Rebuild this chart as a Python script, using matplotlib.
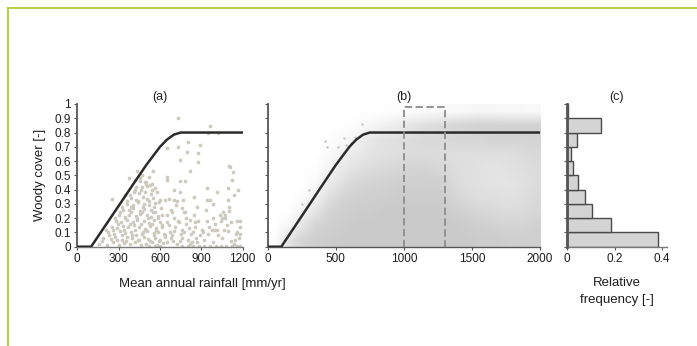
import matplotlib
matplotlib.use("Agg")
import matplotlib.pyplot as plt
import numpy as np
from matplotlib.colors import LinearSegmentedColormap
from matplotlib.lines import Line2D

plt.rcParams['font.family'] = ['Liberation Sans', 'DejaVu Sans']
plt.rcParams['font.size'] = 8

# --- data ---

# upper-bound curve (same in (a) and (b))
curve_x = [0, 100, 200, 300, 400, 500, 600, 650, 700, 750, 2000]
curve_y = [0, 0, 0.143, 0.286, 0.43, 0.572, 0.70, 0.75, 0.785, 0.80, 0.80]

# (a) individual sites: rainfall [mm/yr], woody cover [-]
rain_a = [
    160, 215, 262, 305, 338, 384, 418, 463, 497, 544, 578, 622,
    188, 243, 276, 322, 364, 397, 446, 482, 516, 563, 601, 638,
    224, 268, 313, 347, 392, 428, 474, 508, 553, 587, 628,
    252, 287, 334, 368, 413, 447, 493, 527, 572, 612,
    283, 318, 362, 404, 436, 484, 518, 557, 603, 652,
    302, 343, 377, 424, 458, 503, 536, 584, 618,
    332, 373, 406, 452, 487, 534, 566, 607,
    358, 404, 437, 483, 517, 563,
    254, 392, 428, 474, 507, 548, 598,
    412, 448, 494, 533, 577,
    428, 473, 506, 563,
    452, 497, 542, 471, 523, 431, 552,
    650, 690, 722, 758, 802, 838, 872, 662, 703, 738, 783, 818, 857, 888,
    683, 718, 648, 763, 812, 846, 879, 702, 742, 672, 792, 832, 903,
    922, 948, 983, 1012, 1048, 1083, 1118, 1152, 1178, 942, 988, 1033, 1068, 1112,
    762, 803, 842, 884, 918, 962, 1003, 1042, 1081, 1122, 1158, 1180, 523, 561, 602,
    733, 963, 950, 1020, 806, 890, 733, 649, 794, 878, 745, 878, 818, 1108,
    1120, 649, 652, 745, 782, 939, 1093, 1168, 745, 637, 668, 702, 770,
    940, 962, 985, 866, 1093, 1100, 760, 772, 1060, 1052, 1075, 1160, 1180,
    1040, 1000, 980, 1093, 1160, 1180, 1103, 1127, 1140, 1010, 705, 850,
    # second pass over the dense part of the cloud
    178, 232, 289, 326, 353, 395, 441, 471, 529, 556, 593, 633,
    205, 257, 296, 341, 379, 421, 459, 501, 539, 571, 615,
    273, 309, 349, 386, 434, 466, 512, 546, 589,
    321, 357, 393, 441, 478, 522, 559, 596,
    346, 381, 419, 461, 498, 541,
    372, 416, 456, 489, 528,
    677, 711, 749, 788, 826, 864, 695, 731, 776, 815, 853, 687, 725,
    913, 957, 1024, 1061, 1134, 1171, 933, 1002, 1097, 1146,
]
cover_a = [
    0.02, 0.015, 0.03, 0.01, 0.025, 0.02, 0.035, 0.015, 0.02, 0.03, 0.01, 0.025,
    0.06, 0.055, 0.07, 0.05, 0.065, 0.06, 0.045, 0.07, 0.055, 0.06, 0.05, 0.065,
    0.1, 0.09, 0.11, 0.095, 0.105, 0.085, 0.1, 0.11, 0.095, 0.1, 0.09,
    0.14, 0.13, 0.145, 0.135, 0.15, 0.14, 0.125, 0.145, 0.13, 0.14,
    0.18, 0.17, 0.185, 0.175, 0.19, 0.18, 0.165, 0.185, 0.175, 0.17,
    0.22, 0.21, 0.225, 0.215, 0.23, 0.22, 0.205, 0.215, 0.225,
    0.26, 0.255, 0.27, 0.25, 0.265, 0.26, 0.245, 0.27,
    0.30, 0.295, 0.31, 0.30, 0.29, 0.305,
    0.337, 0.34, 0.33, 0.345, 0.335, 0.34, 0.33,
    0.38, 0.375, 0.385, 0.37, 0.38,
    0.42, 0.415, 0.425, 0.41,
    0.46, 0.455, 0.44, 0.50, 0.49, 0.53, 0.53,
    0.03, 0.08, 0.02, 0.12, 0.05, 0.10, 0.03, 0.15, 0.20, 0.17, 0.24, 0.19, 0.14, 0.08,
    0.26, 0.29, 0.22, 0.06, 0.13, 0.22, 0.18, 0.11, 0.04, 0.10, 0.16, 0.03, 0.12,
    0.05, 0.09, 0.03, 0.12, 0.06, 0.15, 0.04, 0.09, 0.14, 0.18, 0.20, 0.22, 0.20, 0.17,
    0.005, 0.005, 0.005, 0.005, 0.005, 0.005, 0.005, 0.005, 0.005, 0.005, 0.005, 0.005, 0.005, 0.005, 0.005,
    0.90, 0.847, 0.80, 0.80, 0.737, 0.714, 0.70, 0.69, 0.667, 0.655, 0.608, 0.597, 0.533, 0.561,
    0.468, 0.49, 0.47, 0.46, 0.46, 0.41, 0.41, 0.40, 0.386, 0.33, 0.335, 0.325, 0.33,
    0.33, 0.33, 0.30, 0.28, 0.33, 0.28, 0.27, 0.24, 0.24, 0.20, 0.22, 0.18, 0.18,
    0.18, 0.12, 0.12, 0.11, 0.10, 0.09, 0.566, 0.52, 0.36, 0.38, 0.40, 0.35,
    0.04, 0.08, 0.045, 0.085, 0.04, 0.08, 0.045, 0.09, 0.04, 0.085, 0.04, 0.08,
    0.12, 0.115, 0.16, 0.12, 0.16, 0.12, 0.16, 0.12, 0.16, 0.12, 0.155,
    0.2, 0.24, 0.2, 0.24, 0.2, 0.24, 0.2, 0.24, 0.2,
    0.28, 0.32, 0.28, 0.32, 0.28, 0.32, 0.28, 0.31,
    0.36, 0.36, 0.4, 0.4, 0.44, 0.40,
    0.48, 0.47, 0.48, 0.45, 0.43,
    0.06, 0.14, 0.09, 0.2, 0.09, 0.06, 0.04, 0.18, 0.1, 0.02, 0.17, 0.24, 0.32,
    0.1, 0.14, 0.08, 0.12, 0.02, 0.06, 0.26, 0.16, 0.25, 0.05,
]

# (b) density of the point cloud, rainfall bins of 100 mm (columns),
# cover bins of 0.1 (rows, bottom to top), 0 = empty, 1 = densest
rain_bins_b = list(range(0, 2001, 100))
cover_bins_b = [0, 0.1, 0.2, 0.3, 0.4, 0.5, 0.6, 0.7, 0.8, 0.9, 1.0]
density_b = [
    # 0    1    2    3    4    5    6    7    8    9    10   11   12   13   14   15   16   17   18   19
    [0.05, 0.5, 0.8, 0.9, 0.95, 1.0, 1.0, 1.0, 1.0, 1.0, 1.0, 1.0, 1.0, 1.0, 1.0, 0.95, 0.95, 0.9, 0.9, 0.9],
    [0.0, 0.15, 0.5, 0.8, 0.9, 0.95, 1.0, 1.0, 1.0, 1.0, 1.0, 1.0, 1.0, 1.0, 0.95, 0.9, 0.85, 0.8, 0.8, 0.85],
    [0.0, 0.0, 0.2, 0.5, 0.8, 0.9, 0.95, 0.95, 1.0, 1.0, 1.0, 1.0, 1.0, 0.9, 0.85, 0.75, 0.7, 0.65, 0.65, 0.75],
    [0.0, 0.0, 0.05, 0.25, 0.6, 0.8, 0.85, 0.9, 0.9, 0.95, 0.95, 0.95, 0.95, 0.8, 0.7, 0.6, 0.6, 0.55, 0.6, 0.7],
    [0.0, 0.0, 0.0, 0.1, 0.35, 0.6, 0.75, 0.8, 0.85, 0.9, 0.9, 0.9, 0.9, 0.7, 0.6, 0.55, 0.5, 0.5, 0.55, 0.65],
    [0.0, 0.0, 0.0, 0.03, 0.2, 0.4, 0.55, 0.65, 0.7, 0.75, 0.8, 0.8, 0.75, 0.65, 0.6, 0.55, 0.5, 0.55, 0.6, 0.65],
    [0.0, 0.0, 0.0, 0.0, 0.1, 0.25, 0.4, 0.5, 0.55, 0.6, 0.65, 0.65, 0.65, 0.6, 0.6, 0.6, 0.6, 0.6, 0.65, 0.7],
    [0.0, 0.0, 0.0, 0.0, 0.03, 0.1, 0.25, 0.45, 0.55, 0.6, 0.65, 0.7, 0.7, 0.75, 0.75, 0.75, 0.8, 0.8, 0.8, 0.8],
    [0.0, 0.0, 0.0, 0.0, 0.0, 0.02, 0.05, 0.15, 0.25, 0.35, 0.5, 0.6, 0.65, 0.75, 0.8, 0.85, 0.85, 0.85, 0.85, 0.85],
    [0.0, 0.0, 0.0, 0.0, 0.0, 0.0, 0.0, 0.0, 0.02, 0.03, 0.05, 0.08, 0.1, 0.1, 0.12, 0.15, 0.15, 0.12, 0.12, 0.1],
]
# a few stray points above the cloud in (b)
rain_b_pts = [423, 432, 560, 575, 610, 640, 250, 300, 520, 690]
cover_b_pts = [0.74, 0.70, 0.76, 0.71, 0.73, 0.77, 0.30, 0.40, 0.70, 0.86]

# dashed window in (b)
box_x = [1000, 1000, 1300, 1300]
box_y = [0, 0.98, 0.98, 0]

# (c) relative frequency of woody cover classes
freq_edges = [0, 0.1, 0.2, 0.3, 0.4, 0.5, 0.6, 0.7, 0.8, 0.9]
freq_vals = [0.385, 0.185, 0.105, 0.075, 0.045, 0.025, 0.015, 0.04, 0.145, 0.005]

y_ticks = [0, 0.1, 0.2, 0.3, 0.4, 0.5, 0.6, 0.7, 0.8, 0.9, 1.0]
y_labels = ['0', '0.1', '0.2', '0.3', '0.4', '0.5', '0.6', '0.7', '0.8', '0.9', '1']
xa_ticks = [0, 300, 600, 900, 1200]
xb_ticks = [0, 500, 1000, 1500, 2000]
xc_ticks = [0, 0.2, 0.4]
xc_labels = ['0', '0.2', '0.4']

# --- figure ---
W, H = 697, 346
fig = plt.figure(figsize=(W / 100, H / 100), dpi=100)
fig.patch.set_facecolor('white')


def px_axes(left, top, right, bottom):
    return fig.add_axes([left / W, 1 - bottom / H, (right - left) / W, (bottom - top) / H])


ax_a = px_axes(77.3, 104, 242.7, 246.7)
ax_b = px_axes(267.7, 104, 540, 246.7)
ax_c = px_axes(567, 104, 666.8, 246.7)

text_col = '#1e1e1e'
for ax in (ax_a, ax_b, ax_c):
    ax.set_facecolor('none')
    for s in ('top', 'right'):
        ax.spines[s].set_visible(False)
    ax.spines['left'].set_color('#555555')
    ax.spines['left'].set_linewidth(1.3)
    ax.spines['bottom'].set_color('#7a7a7a')
    ax.spines['bottom'].set_linewidth(1.0)
    ax.set_ylim(0, 1)
    ax.set_yticks(y_ticks)
    ax.tick_params(direction='out', length=2.5, width=0.8, color='#555555',
                   labelsize=8.5, labelcolor=text_col, pad=2)

# (a)
ax_a.scatter(rain_a, cover_a, s=7, color='#cdc9bf', linewidths=0, zorder=2)
ax_a.plot(curve_x, curve_y, color='#2b2b2b', lw=1.8, zorder=3, solid_capstyle='butt')
ax_a.set_xlim(0, 1200)
ax_a.set_xticks(xa_ticks)
ax_a.set_yticklabels(y_labels)
ax_a.set_ylabel('Woody cover [-]', fontsize=9.5, color=text_col, labelpad=6)
ax_a.set_title('(a)', fontsize=9, color=text_col, pad=3)

# (b)
cmap = LinearSegmentedColormap.from_list('cloud', ['#ffffff', '#cacaca'])
ax_b.imshow(np.array(density_b), extent=(rain_bins_b[0], rain_bins_b[-1], cover_bins_b[0], cover_bins_b[-1]),
            origin='lower', aspect='auto', cmap=cmap, vmin=0, vmax=1,
            interpolation='bilinear', zorder=1)
ax_b.scatter(rain_b_pts, cover_b_pts, s=3, color='#c6c6c6', linewidths=0, zorder=2)
ax_b.plot(curve_x, curve_y, color='#2b2b2b', lw=1.8, zorder=3, solid_capstyle='butt')
ax_b.plot(box_x, box_y, color='#8c8c8c', lw=1.3, ls=(0, (4, 2)), zorder=4)
ax_b.set_xlim(0, 2000)
ax_b.set_xticks(xb_ticks)
ax_b.set_yticklabels([])
ax_b.set_title('(b)', fontsize=9, color=text_col, pad=3)
ax_b.spines['bottom'].set_color('#555555')

# (c)
ax_c.barh(freq_edges, freq_vals, height=0.1, align='edge', color='#d4d4d4',
          edgecolor='#4a4a4a', linewidth=1.0, zorder=2)
ax_c.set_xlim(0, 0.42)
ax_c.set_xticks(xc_ticks)
ax_c.set_xticklabels(xc_labels)
ax_c.set_yticklabels([])
ax_c.spines['left'].set_linewidth(2.0)
ax_c.spines['left'].set_zorder(3)
ax_c.set_title('(c)', fontsize=9, color=text_col, pad=3)
ax_c.set_xlabel('Relative\nfrequency [-]', fontsize=9.5, color=text_col, labelpad=9, linespacing=1.45)

fig.text(202 / W, 1 - 284 / H, 'Mean annual rainfall [mm/yr]', fontsize=9.5, color=text_col,
         ha='center', va='center')

# thin yellow-green frame along top and left edge
frame_col = '#b3c92c'
fig.add_artist(Line2D([7.5 / W, 1], [1 - 7.5 / H, 1 - 7.5 / H], color=frame_col, lw=1.3,
                      transform=fig.transFigure))
fig.add_artist(Line2D([7.5 / W, 7.5 / W], [0, 1 - 7.5 / H], color=frame_col, lw=1.3,
                      transform=fig.transFigure))

fig.savefig('out.png', dpi=100)
